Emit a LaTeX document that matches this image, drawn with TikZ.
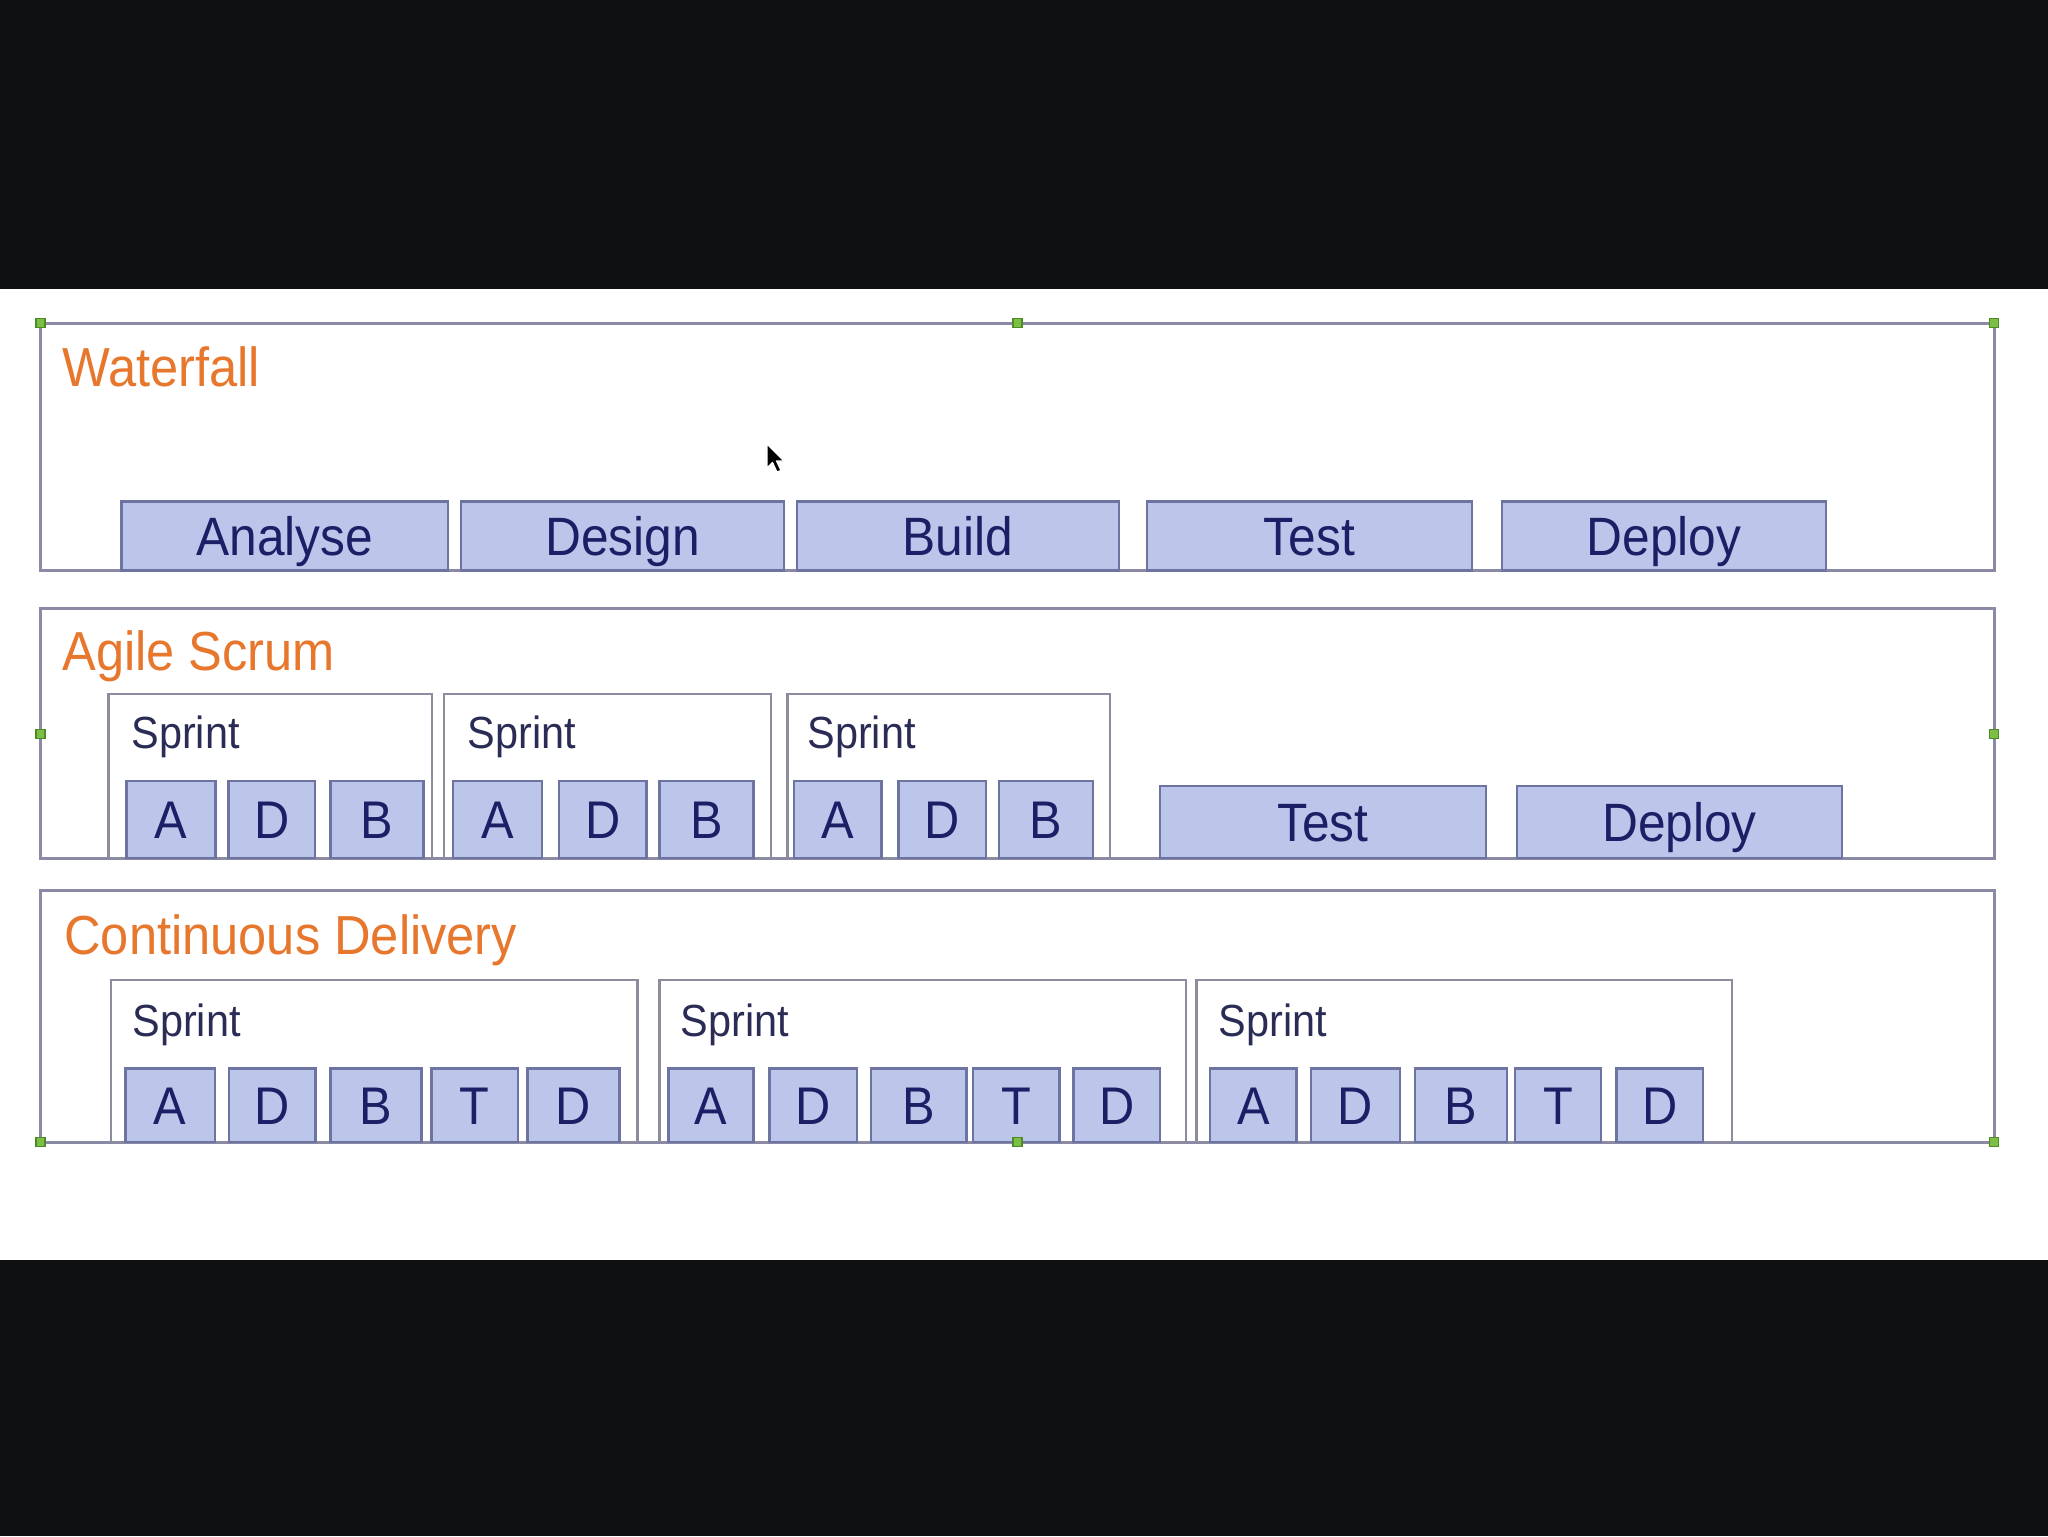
\documentclass[tikz,border=0pt]{standalone}
\usepackage{fontspec}
\setmainfont{Liberation Sans}[FakeStretch=0.92]
\definecolor{bgdark}{HTML}{0E0F11}
\definecolor{framec}{HTML}{8A8AA6}
\definecolor{boxfill}{HTML}{BCC6EA}
\definecolor{boxline}{HTML}{6E74A2}
\definecolor{navytext}{HTML}{1A1F66}
\definecolor{sprinttext}{HTML}{2A2C55}
\definecolor{orangetext}{HTML}{E8772E}
\definecolor{sprintline}{HTML}{8C8C9E}
\definecolor{handlefill}{HTML}{7CBF45}
\definecolor{handleline}{HTML}{4E8A25}
\newcommand\rbox[7]{%
  \node[#1, minimum width={(#5-#3)*0.5pt}, minimum height={(#6-#4)*0.5pt}]
    (#2) at ({(#3+#5)/2},{(#4+#6)/2}) {#7};}
\begin{document}
\begin{tikzpicture}[x=0.5pt,y=-0.5pt,
  frame/.style={draw=framec, line width=1.5pt, inner sep=0pt, fill=white},
  sprintbox/.style={draw=sprintline, line width=1.4pt, inner sep=0pt, fill=white},
  phase/.style={draw=boxline, line width=1.2pt, fill=boxfill, inner sep=0pt,
    text=navytext, font=\fontsize{27}{30}\selectfont, text height=19.3pt, text depth=0pt},
  item/.style={draw=boxline, line width=1.2pt, fill=boxfill, inner sep=0pt,
    text=navytext, font=\fontsize{26.5}{30}\selectfont, text height=19pt, text depth=0pt},
  lbl/.style={text=orangetext, font=\fontsize{27.5}{30}\selectfont, inner sep=0pt, anchor=base west},
  sprintlbl/.style={text=sprinttext, font=\fontsize{22.5}{26}\selectfont, inner sep=0pt, anchor=base west},
  handle/.style={draw=handleline, fill=handlefill, line width=0.6pt, minimum size=4.5pt, inner sep=0pt}
]
\useasboundingbox (0,0) rectangle (2048,1536);
% background
\fill[bgdark] (0,0) rectangle (2048,1536);
\fill[white] (0,289) rectangle (2048,1260);

% ---------------- Waterfall ----------------
\rbox{frame}{wf}{40.5}{323}{1994}{570.5}{}
\node[lbl] (wflbl) at (62,386) {Waterfall};
\rbox{phase}{wfA}{121.5}{501.5}{448}{570.5}{Analyse}
\rbox{phase}{wfD}{461}{501.5}{784}{570.5}{Design}
\rbox{phase}{wfB}{797}{501.5}{1119}{570.5}{Build}
\rbox{phase}{wfT}{1147}{501.5}{1472}{570.5}{Test}
\rbox{phase}{wfP}{1502}{501.5}{1826}{570.5}{Deploy}

% ---------------- Agile Scrum ----------------
\rbox{frame}{ag}{40.5}{608.5}{1994}{858}{}
\node[lbl] (aglbl) at (62,670) {Agile Scrum};
\rbox{sprintbox}{agS1}{108.5}{694}{432}{858}{}
\rbox{sprintbox}{agS2}{444}{694}{771}{858}{}
\rbox{sprintbox}{agS3}{787.5}{694}{1110}{858}{}
\node[sprintlbl] (agS1l) at (131,748) {Sprint};
\node[sprintlbl] (agS2l) at (467.5,748) {Sprint};
\node[sprintlbl] (agS3l) at (807,748) {Sprint};
\rbox{item}{ag1a}{126.5}{781}{215.5}{858}{A}
\rbox{item}{ag1d}{228.5}{781}{315}{858}{D}
\rbox{item}{ag1b}{330.5}{781}{423.5}{858}{B}
\rbox{item}{ag2a}{453}{781}{542}{858}{A}
\rbox{item}{ag2d}{559}{781}{646.5}{858}{D}
\rbox{item}{ag2b}{659.5}{781}{753.5}{858}{B}
\rbox{item}{ag3a}{794}{781}{881.5}{858}{A}
\rbox{item}{ag3d}{898.5}{781}{986}{858}{D}
\rbox{item}{ag3b}{999}{781}{1093}{858}{B}
\rbox{phase}{agT}{1160}{786}{1486}{858}{Test}
\rbox{phase}{agP}{1517}{786}{1842}{858}{Deploy}

% ---------------- Continuous Delivery ----------------
\rbox{frame}{cd}{40.5}{890.5}{1994}{1142}{}
\node[lbl] (cdlbl) at (64,954) {Continuous Delivery};
\rbox{sprintbox}{cdS1}{111}{980}{637.5}{1142}{}
\rbox{sprintbox}{cdS2}{659.5}{980}{1186}{1142}{}
\rbox{sprintbox}{cdS3}{1196.5}{980}{1732}{1142}{}
\node[sprintlbl] (cdS1l) at (132,1036.5) {Sprint};
\node[sprintlbl] (cdS2l) at (680.5,1036.5) {Sprint};
\node[sprintlbl] (cdS3l) at (1218.5,1036.5) {Sprint};
\rbox{item}{cd1a}{125.5}{1068.5}{215}{1142}{A}
\rbox{item}{cd1d}{229}{1068.5}{315.5}{1142}{D}
\rbox{item}{cd1b}{330.5}{1068.5}{421.5}{1142}{B}
\rbox{item}{cd1t}{431.5}{1068.5}{518}{1142}{T}
\rbox{item}{cd1e}{527.5}{1068.5}{619.5}{1142}{D}
\rbox{item}{cd2a}{668.5}{1068.5}{753.5}{1142}{A}
\rbox{item}{cd2d}{769.5}{1068.5}{857}{1142}{D}
\rbox{item}{cd2b}{871}{1068.5}{966.5}{1142}{B}
\rbox{item}{cd2t}{973}{1068.5}{1059.5}{1142}{T}
\rbox{item}{cd2e}{1073.5}{1068.5}{1160}{1142}{D}
\rbox{item}{cd3a}{1210}{1068.5}{1296.5}{1142}{A}
\rbox{item}{cd3d}{1311}{1068.5}{1400}{1142}{D}
\rbox{item}{cd3b}{1415}{1068.5}{1507}{1142}{B}
\rbox{item}{cd3t}{1515}{1068.5}{1601}{1142}{T}
\rbox{item}{cd3e}{1616.5}{1068.5}{1703}{1142}{D}

% ---------------- selection handles ----------------
\node[handle] (h1) at (40.5,323) {};
\node[handle] (h2) at (1017.5,323) {};
\node[handle] (h3) at (1994,323) {};
\node[handle] (h4) at (40.5,734) {};
\node[handle] (h5) at (1994,734) {};
\node[handle] (h6) at (40.5,1142) {};
\node[handle] (h7) at (1017.5,1142) {};
\node[handle] (h8) at (1994,1142) {};

% ---------------- mouse cursor ----------------
\fill[black, draw=white, line width=0.6pt, line join=round]
  (767,444) -- (767,468) -- (772.5,462.5) -- (777,472) -- (781,470.5)
  -- (776.5,461) -- (784,461) -- cycle;
\end{tikzpicture}
\end{document}
